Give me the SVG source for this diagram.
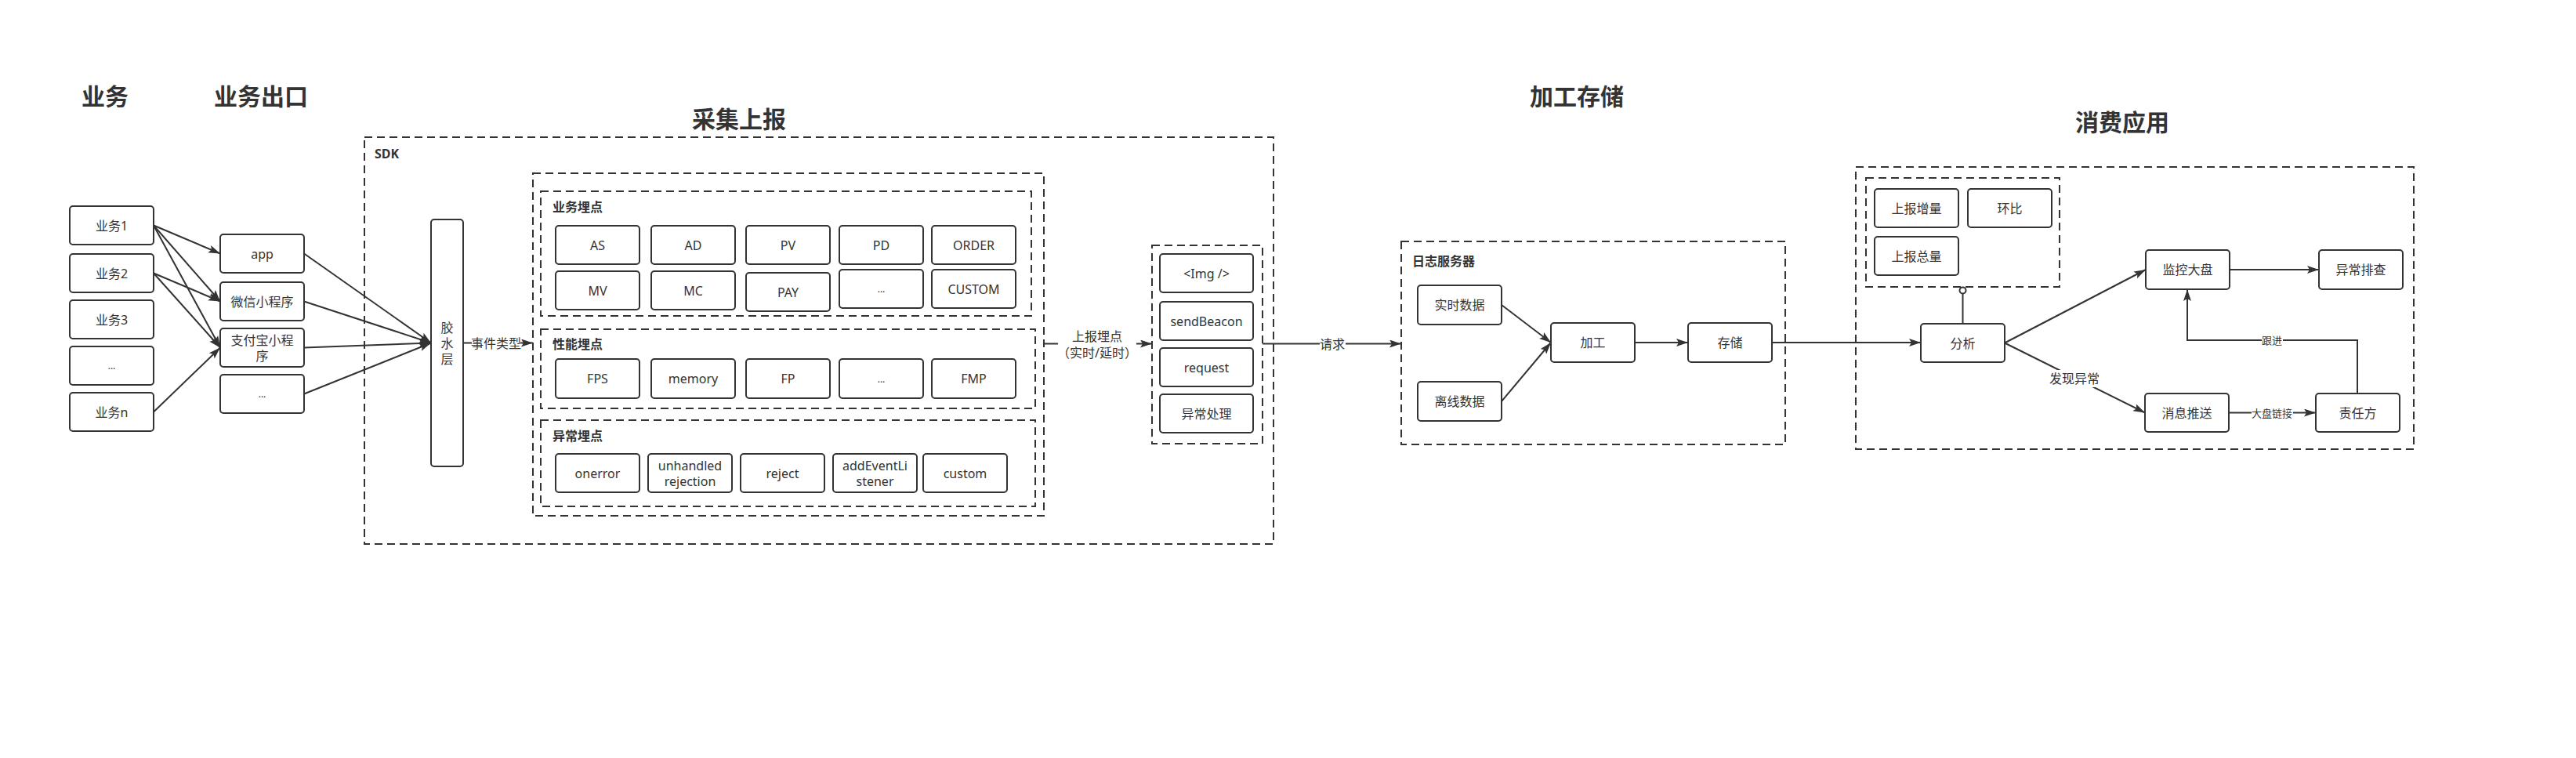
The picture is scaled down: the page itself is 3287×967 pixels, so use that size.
<svg xmlns="http://www.w3.org/2000/svg" width="3287" height="967" viewBox="0 0 3287 967">
<style>
.box{fill:#fff;stroke:#333;stroke-width:2}
.grp{fill:none;stroke:#333;stroke-width:2;stroke-dasharray:10 6}
.t{font-family:"Noto Sans","Noto Sans CJK SC",sans-serif;font-size:16px;fill:#333;text-anchor:middle;dominant-baseline:central}
.dots{font-size:12px}
.title{font-size:30px;font-weight:bold}
.gl{font-weight:bold;text-anchor:start}
.sm{font-size:13px}
.edge{fill:none;stroke:#333;stroke-width:2;marker-end:url(#arr)}
.plain{fill:none;stroke:#333;stroke-width:2}
.lbg{fill:#fff}
</style>
<defs>
<marker id="arr" markerUnits="userSpaceOnUse" markerWidth="16" markerHeight="12" refX="15" refY="5" orient="auto">
<path d="M0,0 L15,5 L0,10 L3,5 z" fill="#333"/>
</marker>
</defs>
<rect width="3287" height="967" fill="#fff"/>

<g id="titles">
<text class="t title" x="134" y="122">业务</text>
<text class="t title" x="333" y="122">业务出口</text>
<text class="t title" x="943" y="151">采集上报</text>
<text class="t title" x="2012" y="122">加工存储</text>
<text class="t title" x="2708" y="155">消费应用</text>
</g>

<g id="groups">
<g id="sdk"><rect class="grp" x="465" y="175" width="1160" height="519"/><text class="t gl" x="478" y="196">SDK</text></g>
<g id="collect"><rect class="grp" x="680" y="221" width="652" height="437"/></g>
<g id="bizpoints"><rect class="grp" x="690" y="244" width="626" height="159"/><text class="t gl" x="705" y="264">业务埋点</text></g>
<g id="perfpoints"><rect class="grp" x="690" y="420" width="631" height="101"/><text class="t gl" x="705" y="439">性能埋点</text></g>
<g id="errpoints"><rect class="grp" x="690" y="536" width="631" height="110"/><text class="t gl" x="705" y="556">异常埋点</text></g>
<g id="sender"><rect class="grp" x="1470" y="313" width="141" height="253"/></g>
<g id="logserver"><rect class="grp" x="1788" y="308" width="490" height="259"/><text class="t gl" x="1802" y="333">日志服务器</text></g>
<g id="consume"><rect class="grp" x="2368" y="213" width="712" height="360"/></g>
<g id="metrics"><rect class="grp" x="2381" y="227" width="247" height="139"/></g>
</g>

<g id="connectors">
<path class="edge" d="M196,287.5 L281,323.5"/>
<path class="edge" d="M196,287.5 L281,384.5"/>
<path class="edge" d="M196,287.5 L281,443.5"/>
<path class="edge" d="M196,348.5 L281,384.5"/>
<path class="edge" d="M196,348.5 L281,443.5"/>
<path class="edge" d="M196,525.5 L281,443.5"/>
<path class="edge" d="M388,323.5 L550,437.5"/>
<path class="edge" d="M388,384.5 L550,437.5"/>
<path class="edge" d="M388,443.5 L550,437.5"/>
<path class="edge" d="M388,502.5 L550,437.5"/>
<path class="edge" d="M591,437.5 L680,437.5"/>
<rect class="lbg" x="602" y="428" width="62" height="19"/>
<text class="t" x="633" y="437.5">事件类型</text>
<path class="edge" d="M1332,438.5 L1470,438.5"/>
<rect class="lbg" x="1350" y="420" width="100" height="40"/>
<text class="t" x="1400" y="429">上报埋点</text>
<text class="t" x="1400" y="450">（实时/延时）</text>
<path class="edge" d="M1611,438.5 L1788,438.5"/>
<rect class="lbg" x="1684" y="429" width="33" height="19"/>
<text class="t" x="1700" y="438.5">请求</text>
<path class="edge" d="M1916,389 L1979,437"/>
<path class="edge" d="M1916,512 L1979,437"/>
<path class="edge" d="M2086,437 L2154,437"/>
<path class="edge" d="M2261,437 L2451,437"/>
<path class="plain" d="M2504.5,413 L2504.5,374.5"/>
<circle cx="2504.5" cy="370.5" r="4" fill="#fff" stroke="#333" stroke-width="2"/>
<path class="edge" d="M2558,437.5 L2738,344"/>
<path class="edge" d="M2558,437.5 L2737,526.5"/>
<rect class="lbg" x="2614" y="472" width="66" height="22"/>
<text class="t" x="2647" y="483">发现异常</text>
<path class="edge" d="M2845,344 L2959,344"/>
<path class="edge" d="M2844,526.5 L2955,526.5"/>
<rect class="lbg" x="2873" y="518" width="53" height="17"/>
<text class="t sm" x="2899" y="526.5">大盘链接</text>
<path class="edge" d="M3008,502 L3008,434 L2791,434 L2791,369"/>
<rect class="lbg" x="2886" y="426" width="27" height="17"/>
<text class="t sm" x="2899" y="434">跟进</text>
</g>

<g id="n_b1"><rect class="box" x="89" y="263" width="107" height="49" rx="4"/><text class="t" x="142.5" y="287.5">业务1</text></g>
<g id="n_b2"><rect class="box" x="89" y="324" width="107" height="49" rx="4"/><text class="t" x="142.5" y="348.5">业务2</text></g>
<g id="n_b3"><rect class="box" x="89" y="383" width="107" height="49" rx="4"/><text class="t" x="142.5" y="407.5">业务3</text></g>
<g id="n_b4"><rect class="box" x="89" y="442" width="107" height="49" rx="4"/><text class="t dots" x="142.5" y="466.5">...</text></g>
<g id="n_bn"><rect class="box" x="89" y="501" width="107" height="49" rx="4"/><text class="t" x="142.5" y="525.5">业务n</text></g>

<g id="n_app"><rect class="box" x="281" y="299" width="107" height="49" rx="4"/><text class="t" x="334.5" y="323.5">app</text></g>
<g id="n_wx"><rect class="box" x="281" y="360" width="107" height="49" rx="4"/><text class="t" x="334.5" y="384.5">微信小程序</text></g>
<g id="n_zfb"><rect class="box" x="281" y="419" width="107" height="49" rx="4"/><text class="t" x="334.5" y="433.5">支付宝小程</text><text class="t" x="334.5" y="453.5">序</text></g>
<g id="n_out4"><rect class="box" x="281" y="478" width="107" height="49" rx="4"/><text class="t dots" x="334.5" y="502.5">...</text></g>

<g id="n_glue"><rect class="box" x="550" y="280" width="41" height="315" rx="4"/><text class="t" x="570.5" y="418">胶</text><text class="t" x="570.5" y="438">水</text><text class="t" x="570.5" y="458">层</text></g>

<g id="n_as"><rect class="box" x="709" y="288" width="107" height="49" rx="4"/><text class="t" x="762.5" y="312.5">AS</text></g>
<g id="n_ad"><rect class="box" x="831" y="288" width="107" height="49" rx="4"/><text class="t" x="884.5" y="312.5">AD</text></g>
<g id="n_pv"><rect class="box" x="952" y="288" width="107" height="49" rx="4"/><text class="t" x="1005.5" y="312.5">PV</text></g>
<g id="n_pd"><rect class="box" x="1071" y="288" width="107" height="49" rx="4"/><text class="t" x="1124.5" y="312.5">PD</text></g>
<g id="n_order"><rect class="box" x="1189" y="288" width="107" height="49" rx="4"/><text class="t" x="1242.5" y="312.5">ORDER</text></g>
<g id="n_mv"><rect class="box" x="709" y="346" width="107" height="49" rx="4"/><text class="t" x="762.5" y="370.5">MV</text></g>
<g id="n_mc"><rect class="box" x="831" y="346" width="107" height="49" rx="4"/><text class="t" x="884.5" y="370.5">MC</text></g>
<g id="n_pay"><rect class="box" x="952" y="348" width="107" height="49" rx="4"/><text class="t" x="1005.5" y="372.5">PAY</text></g>
<g id="n_bizdots"><rect class="box" x="1071" y="344" width="107" height="49" rx="4"/><text class="t dots" x="1124.5" y="368.5">...</text></g>
<g id="n_custom1"><rect class="box" x="1189" y="344" width="107" height="49" rx="4"/><text class="t" x="1242.5" y="368.5">CUSTOM</text></g>

<g id="n_fps"><rect class="box" x="709" y="458" width="107" height="50" rx="4"/><text class="t" x="762.5" y="483">FPS</text></g>
<g id="n_memory"><rect class="box" x="831" y="458" width="107" height="50" rx="4"/><text class="t" x="884.5" y="483">memory</text></g>
<g id="n_fp"><rect class="box" x="952" y="458" width="107" height="50" rx="4"/><text class="t" x="1005.5" y="483">FP</text></g>
<g id="n_perfdots"><rect class="box" x="1071" y="458" width="107" height="50" rx="4"/><text class="t dots" x="1124.5" y="483">...</text></g>
<g id="n_fmp"><rect class="box" x="1189" y="458" width="107" height="50" rx="4"/><text class="t" x="1242.5" y="483">FMP</text></g>

<g id="n_onerror"><rect class="box" x="709" y="579" width="107" height="49" rx="4"/><text class="t" x="762.5" y="603.5">onerror</text></g>
<g id="n_unhandled"><rect class="box" x="827" y="579" width="107" height="49" rx="4"/><text class="t" x="880.5" y="594">unhandled</text><text class="t" x="880.5" y="614">rejection</text></g>
<g id="n_reject"><rect class="box" x="945" y="579" width="107" height="49" rx="4"/><text class="t" x="998.5" y="603.5">reject</text></g>
<g id="n_ael"><rect class="box" x="1063" y="579" width="107" height="49" rx="4"/><text class="t" x="1116.5" y="594">addEventLi</text><text class="t" x="1116.5" y="614">stener</text></g>
<g id="n_custom2"><rect class="box" x="1178" y="579" width="107" height="49" rx="4"/><text class="t" x="1231.5" y="603.5">custom</text></g>

<g id="n_img"><rect class="box" x="1480" y="324" width="119" height="49" rx="4"/><text class="t" x="1539.5" y="348.5">&lt;Img /&gt;</text></g>
<g id="n_beacon"><rect class="box" x="1480" y="385" width="119" height="49" rx="4"/><text class="t" x="1539.5" y="409.5">sendBeacon</text></g>
<g id="n_request"><rect class="box" x="1480" y="444" width="119" height="49" rx="4"/><text class="t" x="1539.5" y="468.5">request</text></g>
<g id="n_errhandle"><rect class="box" x="1480" y="503" width="119" height="49" rx="4"/><text class="t" x="1539.5" y="527.5">异常处理</text></g>

<g id="n_realtime"><rect class="box" x="1809" y="364" width="107" height="50" rx="4"/><text class="t" x="1862.5" y="389">实时数据</text></g>
<g id="n_offline"><rect class="box" x="1809" y="487" width="107" height="50" rx="4"/><text class="t" x="1862.5" y="512">离线数据</text></g>
<g id="n_process"><rect class="box" x="1979" y="412" width="107" height="50" rx="4"/><text class="t" x="2032.5" y="437">加工</text></g>
<g id="n_store"><rect class="box" x="2154" y="412" width="107" height="50" rx="4"/><text class="t" x="2207.5" y="437">存储</text></g>

<g id="n_inc"><rect class="box" x="2392" y="241" width="107" height="49" rx="4"/><text class="t" x="2445.5" y="265.5">上报增量</text></g>
<g id="n_ratio"><rect class="box" x="2511" y="241" width="107" height="49" rx="4"/><text class="t" x="2564.5" y="265.5">环比</text></g>
<g id="n_total"><rect class="box" x="2392" y="302" width="107" height="49" rx="4"/><text class="t" x="2445.5" y="326.5">上报总量</text></g>
<g id="n_analyze"><rect class="box" x="2451" y="413" width="107" height="49" rx="4"/><text class="t" x="2504.5" y="437.5">分析</text></g>
<g id="n_dashboard"><rect class="box" x="2738" y="319" width="107" height="50" rx="4"/><text class="t" x="2791.5" y="344">监控大盘</text></g>
<g id="n_troubleshoot"><rect class="box" x="2959" y="319" width="107" height="50" rx="4"/><text class="t" x="3012.5" y="344">异常排查</text></g>
<g id="n_push"><rect class="box" x="2737" y="502" width="107" height="49" rx="4"/><text class="t" x="2790.5" y="526.5">消息推送</text></g>
<g id="n_owner"><rect class="box" x="2955" y="502" width="107" height="49" rx="4"/><text class="t" x="3008.5" y="526.5">责任方</text></g>
</svg>
